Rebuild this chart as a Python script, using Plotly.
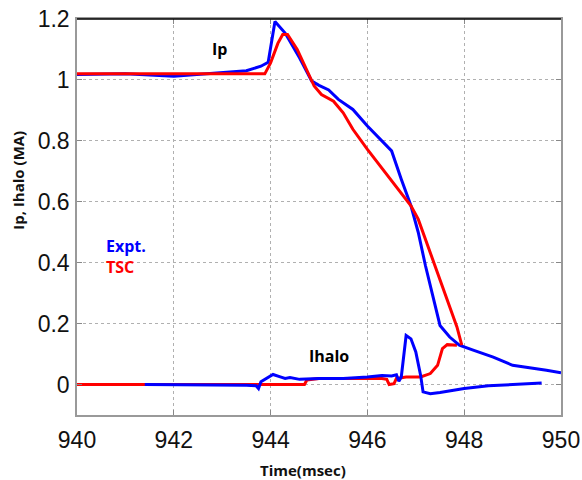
import plotly.graph_objects as go

# Expt. Ip
ip_expt_t = [940.0, 941.0, 942.0, 943.0, 943.5, 943.8, 943.95, 944.09, 944.3, 944.6, 944.85, 945.0,
             945.2, 945.4, 945.7, 946.0, 946.5, 946.7, 946.9, 947.05, 947.2, 947.35, 947.5, 947.7,
             947.9, 948.2, 948.6, 949.0, 949.4, 949.7, 950.0]
ip_expt = [1.018, 1.02, 1.012, 1.025, 1.03, 1.045, 1.058, 1.192, 1.154, 1.072, 0.996, 0.982,
           0.967, 0.936, 0.903, 0.849, 0.767, 0.674, 0.587, 0.50, 0.39, 0.292, 0.194, 0.156,
           0.129, 0.112, 0.09, 0.063, 0.055, 0.047, 0.039]

# TSC Ip
ip_tsc_t = [940.0, 943.88, 944.0, 944.15, 944.25, 944.35, 944.55, 944.75, 944.9, 945.05, 945.3,
            945.5, 945.7, 946.0, 946.5, 946.9, 947.05, 947.3, 947.5, 947.7, 947.85, 947.95]
ip_tsc = [1.02, 1.02, 1.056, 1.12, 1.149, 1.149, 1.10, 1.034, 0.98, 0.952, 0.93,
          0.892, 0.838, 0.772, 0.669, 0.587, 0.543, 0.434, 0.347, 0.26, 0.189, 0.129]

# TSC Ihalo
ih_tsc_t = [940.0, 944.7, 944.75, 945.0, 946.3, 946.4, 946.45, 946.55, 946.6, 946.8, 947.1,
            947.3, 947.45, 947.55, 947.65, 947.85]
ih_tsc = [0.0, 0.0, 0.015, 0.02, 0.02, 0.017, 0.0, 0.003, 0.02, 0.025, 0.025,
          0.036, 0.063, 0.118, 0.131, 0.129]

# Expt. Ihalo
ih_expt_t = [941.4, 943.3, 943.5, 943.7, 943.75, 943.8, 943.95, 944.05, 944.2, 944.3, 944.4,
             944.6, 945.0, 945.5, 946.0, 946.3, 946.5, 946.6, 946.65, 946.7, 946.8, 946.9,
             947.0, 947.1, 947.15, 947.3, 947.5, 948.0, 948.5, 949.0, 949.6]
ih_expt = [0.0, 0.0, -0.002, -0.004, -0.013, 0.009, 0.025, 0.033, 0.025, 0.02, 0.023,
           0.017, 0.02, 0.02, 0.025, 0.03, 0.028, 0.032, 0.011, 0.025, 0.161, 0.15,
           0.107, 0.03, -0.024, -0.03, -0.026, -0.013, -0.004, 0.0, 0.005]

x_ticks = [940, 942, 944, 946, 948, 950]
y_ticks = [0, 0.2, 0.4, 0.6, 0.8, 1, 1.2]
y_tick_text = ["0", "0.2", "0.4", "0.6", "0.8", "1", "1.2"]

BLUE = "#0000ff"
RED = "#ff0000"

fig = go.Figure()
fig.add_trace(go.Scatter(x=ih_tsc_t, y=ih_tsc, mode="lines", line=dict(color=RED, width=3)))
fig.add_trace(go.Scatter(x=ih_expt_t, y=ih_expt, mode="lines", line=dict(color=BLUE, width=3)))
fig.add_trace(go.Scatter(x=ip_expt_t, y=ip_expt, mode="lines", line=dict(color=BLUE, width=3)))
fig.add_trace(go.Scatter(x=ip_tsc_t, y=ip_tsc, mode="lines", line=dict(color=RED, width=3)))

axis_common = dict(showgrid=True, gridcolor="#b0b0b0", griddash="dot", gridwidth=1,
                   zeroline=False, showline=True, linecolor="#999999", linewidth=1.5,
                   mirror="ticks", ticks="inside", ticklen=5, tickcolor="#888888",
                   automargin=False, ticklabeloverflow="allow",
                   tickfont=dict(family="Liberation Sans, Arial", size=23, color="#111111"))

fig.update_xaxes(range=[940, 950], tickvals=x_ticks, ticklabelstandoff=4, **axis_common)
fig.update_yaxes(range=[-0.1, 1.2], tickvals=y_ticks, ticktext=y_tick_text, ticklabelstandoff=1,
                 **axis_common)

fig.add_shape(type="line", xref="paper", yref="paper", x0=0, x1=1, y0=1, y1=1,
              line=dict(color="black", width=1.5))

title_font = dict(family="Open Sans", size=15, color="#111111")
fig.add_annotation(xref="paper", yref="paper", x=0.467, y=-0.139, yanchor="middle",
                   text="<b>Time(msec)</b>", showarrow=False, font=title_font)
fig.add_annotation(xref="paper", yref="paper", x=-0.122, y=0.594, xanchor="center",
                   text="<b>Ip, Ihalo (MA)</b>", showarrow=False, textangle=-90, font=title_font)

ann_font = dict(family="Open Sans", size=16, color="black")
fig.add_annotation(x=942.95, y=1.10, text="<b>Ip</b>", showarrow=False, font=ann_font)
fig.add_annotation(x=945.2, y=0.095, text="<b>Ihalo</b>", showarrow=False, font=ann_font)
fig.add_annotation(x=940.55, y=0.455, text="<b>Expt.</b>", showarrow=False, xanchor="left",
                   font=dict(family="Open Sans", size=16, color=BLUE))
fig.add_annotation(x=940.55, y=0.386, text="<b>TSC</b>", showarrow=False, xanchor="left",
                   font=dict(family="Open Sans", size=16, color=RED))

fig.update_layout(width=582, height=480, showlegend=False,
                  plot_bgcolor="white", paper_bgcolor="white",
                  margin=dict(l=77, r=21, t=19, b=65))

fig.write_html("out.html", config={"displayModeBar": False},
               post_script="document.body.style.margin='0';document.body.style.overflow='hidden';")
